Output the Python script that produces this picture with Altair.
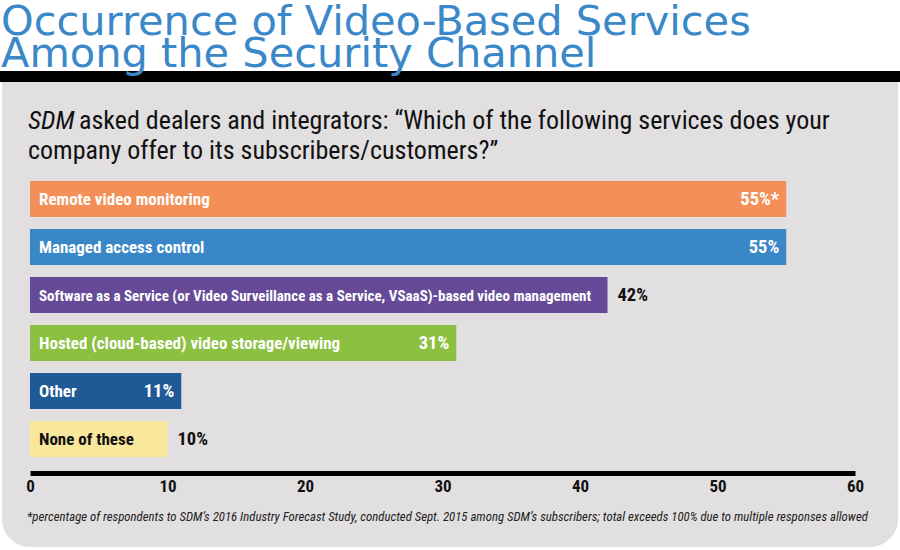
import altair as alt
import pandas as pd

# ---- data ----
categories = [
    "Remote video monitoring",
    "Managed access control",
    "Software as a Service (or Video Surveillance as a Service, VSaaS)-based video management",
    "Hosted (cloud-based) video storage/viewing",
    "Other",
    "None of these",
]
values = [55, 55, 42, 31, 11, 10]
value_labels = ["55%*", "55%", "42%", "31%", "11%", "10%"]
tick_values = [0, 10, 20, 30, 40, 50, 60]

title_lines = ["Occurrence of Video-Based Services", "Among the Security Channel"]
subtitle_italic = "SDM"
subtitle_line1 = "asked dealers and integrators: \u201cWhich of the following services does your"
subtitle_line2 = "company offer to its subscribers/customers?\u201d"
footnote = ("*percentage of respondents to SDM\u2019s 2016 Industry Forecast Study, conducted Sept. 2015 "
            "among SDM\u2019s subscribers; total exceeds 100% due to multiple responses allowed")

# ---- styles ----
bar_colors = ["#f48f57", "#3a87c8", "#664a98", "#8bc041", "#1f5996", "#f9e79c"]
dark_text_bars = {"None of these"}
small_text_bars = {categories[2]}
outside_value_labels = {"42%", "10%"}

COND = "'Roboto Condensed', 'Archivo Narrow', sans-serif"
TITLE_BLUE = "#3b88c9"
PANEL = "#e1dfe0"

df = pd.DataFrame({"category": categories, "value": values, "vlabel": value_labels})
df["tcolor"] = ["#111111" if c in dark_text_bars else "#ffffff" for c in categories]
df["fsize"] = [15 if c in small_text_bars else 17 for c in categories]
df["pos"] = ["out" if v in outside_value_labels else "in" for v in value_labels]

xscale = alt.Scale(domain=[0, 60], range=[30, 855], nice=False, zero=True)
yscale = alt.Scale(domain=categories, range=[175, 463], paddingInner=0.25, paddingOuter=0.125)

one = alt.Data(values=[{"a": 1}])

panel = alt.Chart(one).mark_rect(
    color=PANEL, cornerRadiusBottomLeft=28, cornerRadiusBottomRight=28
).encode(x=alt.value(2), x2=alt.value(898), y=alt.value(82), y2=alt.value(547))

black_band = alt.Chart(one).mark_rect(color="#000000").encode(
    x=alt.value(0), x2=alt.value(900), y=alt.value(71), y2=alt.value(82)
)

def txt(s, x, y, size, color="#111111", font=COND, weight="normal", style="normal"):
    return alt.Chart(one).mark_text(
        text=s, align="left", baseline="alphabetic", fontSize=size, color=color,
        font=font, fontWeight=weight, fontStyle=style
    ).encode(x=alt.value(x), y=alt.value(y))

title1 = txt(title_lines[0], 1, 35, 41.5, TITLE_BLUE, font="DejaVu Sans")
title2 = txt(title_lines[1], 1, 67, 41.5, TITLE_BLUE, font="DejaVu Sans")
sub_it = txt(subtitle_italic, 28, 129, 26, style="italic")
sub1 = txt(subtitle_line1, 79, 129, 26)
sub2 = txt(subtitle_line2, 28, 159, 26)
foot = txt(footnote, 27, 521, 12.8, "#222222", style="italic")

base = alt.Chart(df)

bars = base.mark_bar().encode(
    x=alt.X("value:Q", scale=xscale,
            axis=alt.Axis(values=tick_values, grid=False, ticks=False, tickSize=0,
                          domainColor="#000000", domainWidth=5, offset=-77,
                          labelFont=COND, labelFontSize=17, labelFontWeight="bold",
                          labelColor="#111111", labelPadding=5, labelFlush=False,
                          title=None, zindex=1)),
    y=alt.Y("category:N", scale=yscale, axis=None, sort=categories),
    color=alt.Color("category:N", scale=alt.Scale(domain=categories, range=bar_colors), legend=None),
)

bar_labels = base.mark_text(
    align="left", baseline="middle", dx=9, dy=1, fontWeight="bold", font=COND
).encode(
    x=alt.datum(0),
    y=alt.Y("category:N", sort=categories),
    text="category:N",
    size=alt.Size("fsize:Q", scale=None),
    color=alt.Color("tcolor:N", scale=None),
)

val_in = base.transform_filter(alt.datum.pos == "in").mark_text(
    align="right", baseline="middle", dx=-7, fontSize=18.5, font=COND, fontWeight="bold", color="#ffffff"
).encode(x="value:Q", y=alt.Y("category:N", sort=categories), text="vlabel:N")

val_out = base.transform_filter(alt.datum.pos == "out").mark_text(
    align="left", baseline="middle", dx=10, fontSize=18.5, font=COND, fontWeight="bold", color="#111111"
).encode(x="value:Q", y=alt.Y("category:N", sort=categories), text="vlabel:N")

chart = alt.layer(
    panel, black_band, title1, title2, sub_it, sub1, sub2, bars, bar_labels, val_in, val_out, foot
).properties(
    width=900, height=550, autosize=alt.AutoSizeParams(type="none"), padding=0,
    background="#ffffff",
).configure_view(stroke=None, fill=None)

chart.save("out.html", embed_options={"renderer": "svg", "actions": False})
